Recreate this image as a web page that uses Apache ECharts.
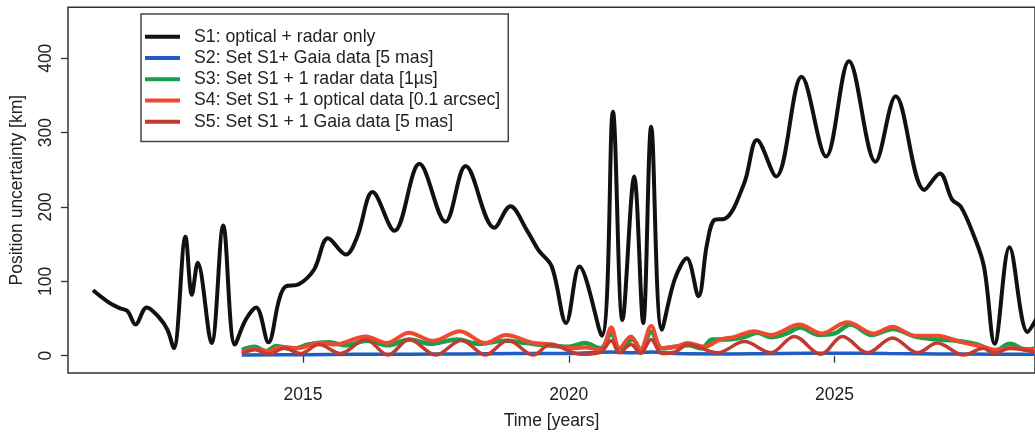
<!DOCTYPE html>
<html>
<head>
<meta charset="utf-8">
<script src="https://cdn.jsdelivr.net/npm/echarts@6/dist/echarts.min.js"></script>
<style>html,body{margin:0;padding:0;background:#fff;}#c{width:1035px;height:435px;}</style>
</head>
<body>
<div id="c"></div>
<script>
// ---- data ----
const seriesNames = [
  'S1: optical + radar only',
  'S2: Set S1+ Gaia data [5 mas]',
  'S3: Set S1 + 1 radar data [1µs]',
  'S4: Set S1 + 1 optical data [0.1 arcsec]',
  'S5: Set S1 + 1 Gaia data [5 mas]'
];
const xTickValues = [2015, 2020, 2025];
const yTickValues = [0, 100, 200, 300, 400];

const s1Years = [2011.05,2011.36,2011.55,2011.70,2011.85,2012.06,2012.30,2012.45,2012.57,2012.79,2012.91,2013.02,2013.28,2013.50,2013.72,2013.92,2014.12,2014.35,2014.55,2014.67,2014.92,2015.21,2015.47,2015.81,2016.02,2016.31,2016.72,2017.19,2017.68,2018.06,2018.60,2018.90,2019.21,2019.43,2019.68,2019.95,2020.20,2020.62,2020.83,2021.01,2021.23,2021.40,2021.55,2021.75,2021.99,2022.22,2022.44,2022.60,2022.75,2022.93,2023.30,2023.54,2023.90,2024.38,2024.84,2025.27,2025.77,2026.15,2026.69,2026.98,2027.21,2027.37,2027.60,2027.81,2028.01,2028.29,2028.63,2028.80];
const s1Values = [88,71,64,60,42,65,51,35,10,160,82,125,17,175,15,48,65,18,75,93,96,116,158,136,160,220,168,258,180,255,172,201,169,142,120,44,120,27,328,48,241,44,308,35,102,131,80,150,183,184,232,290,241,375,268,396,261,349,223,245,210,201,165,120,16,146,32,50];

const s2Years = [2013.85,2015.0,2016.0,2017.0,2018.0,2019.0,2020.0,2020.8,2021.2,2021.55,2022.0,2023.0,2024.0,2025.0,2026.0,2027.0,2028.0,2028.8];
const s2Values = [1,1.5,2,2,2.5,3,3,5,4,5,3,2.5,3,3.5,3,2.5,2,2];

const s3Years = [2013.85,2014.1,2014.3,2014.5,2014.8,2015.1,2015.5,2015.8,2016.2,2016.6,2017.0,2017.4,2017.9,2018.3,2018.8,2019.2,2019.6,2020.0,2020.3,2020.6,2020.8,2020.95,2021.2,2021.35,2021.55,2021.75,2022.0,2022.25,2022.5,2022.7,2023.0,2023.3,2023.55,2023.8,2024.1,2024.35,2024.7,2025.0,2025.3,2025.7,2026.1,2026.5,2026.9,2027.3,2027.7,2028.0,2028.3,2028.6,2028.8];
const s3Values = [8,12,6,13,9,15,18,14,20,14,22,16,22,16,20,17,14,12,17,10,30,10,22,8,32,10,12,14,10,22,22,25,31,25,30,38,28,30,42,28,36,26,22,20,15,6,16,8,10];

const s4Years = [2013.85,2014.1,2014.35,2014.6,2014.9,2015.3,2015.6,2016.18,2016.58,2016.99,2017.45,2017.95,2018.43,2018.82,2019.3,2019.7,2020.0,2020.3,2020.6,2020.8,2020.95,2021.17,2021.35,2021.55,2021.75,2022.0,2022.24,2022.55,2022.85,2023.1,2023.49,2023.8,2024.34,2024.75,2025.24,2025.74,2026.09,2026.5,2026.93,2027.4,2027.8,2028.0,2028.3,2028.8];
const s4Values = [5,9,6,12,10,17,15,26,17,31,20,33,17,28,18,15,10,11,8,38,10,26,8,40,10,12,17,12,22,25,33,28,42,30,45,30,39,27,27,18,12,8,10,8];

const s5Years = [2013.85,2014.1,2014.35,2014.65,2014.95,2015.3,2015.7,2016.18,2016.6,2017.0,2017.5,2017.98,2018.43,2018.86,2019.33,2019.65,2020.24,2020.6,2020.8,2020.95,2021.17,2021.35,2021.55,2021.75,2022.0,2022.24,2022.8,2023.3,2023.8,2024.24,2024.74,2025.15,2025.62,2026.09,2026.56,2026.93,2027.43,2027.8,2028.0,2028.3,2028.8];
const s5Values = [3,8,2,10,3,15,3,22,1,22,1,21,1,21,1,15,2,5,20,4,15,3,22,3,5,15,4,19,4,26,2,26,4,24,4,17,1,10,3,10,4];

const seriesColors = ['#111111', '#1f5fbf', '#15a04a', '#f0492f', '#c23b30'];
const seriesWidths = [4, 3.5, 4.5, 4, 3.5];

// ---- chart ----
function pairs(xs, ys) { return xs.map((x, i) => [x, ys[i]]); }
const allData = [
  pairs(s1Years, s1Values),
  pairs(s2Years, s2Values),
  pairs(s3Years, s3Values),
  pairs(s4Years, s4Values),
  pairs(s5Years, s5Values)
];
const FONT = "'Liberation Sans', Arial, sans-serif";
const chart = echarts.init(document.getElementById('c'), null, {renderer: 'canvas'});
chart.setOption({
  animation: false,
  backgroundColor: '#ffffff',
  textStyle: {fontFamily: FONT},
  grid: {
    left: 68, top: 7.3, right: -3, bottom: 61.7,
    show: true, borderColor: '#333', borderWidth: 1.5, backgroundColor: 'transparent'
  },
  legend: {
    orient: 'vertical',
    left: 141, top: 14,
    padding: [12, 8, 9, 4],
    itemGap: 0,
    itemWidth: 35, itemHeight: 4,
    icon: 'rect',
    borderColor: '#444', borderWidth: 1.5,
    backgroundColor: '#fff',
    textStyle: {fontFamily: FONT, fontSize: 17.7, color: '#222', lineHeight: 21.3, padding: [0, 0, 0, 9]},
    data: seriesNames
  },
  xAxis: {
    type: 'value',
    min: 2010.58, max: 2028.77,
    name: 'Time [years]',
    nameLocation: 'middle', nameGap: 39,
    nameTextStyle: {fontFamily: FONT, fontSize: 17.5, color: '#222'},
    axisLine: {show: false},
    splitLine: {show: false},
    axisTick: {show: true, customValues: xTickValues, length: 7, lineStyle: {color: '#333', width: 1.3}},
    axisLabel: {customValues: xTickValues, fontSize: 17.5, color: '#222', margin: 13, fontFamily: FONT,
      formatter: v => String(Math.round(v))}
  },
  yAxis: {
    type: 'value',
    min: -23.2, max: 468.5,
    name: 'Position uncertainty [km]',
    nameLocation: 'middle', nameGap: 42,
    nameTextStyle: {fontFamily: FONT, fontSize: 17.5, color: '#222'},
    axisLine: {show: false},
    splitLine: {show: false},
    axisTick: {show: true, customValues: yTickValues, length: 7, lineStyle: {color: '#333', width: 1.3}},
    axisLabel: {customValues: yTickValues, fontSize: 17.5, color: '#222', margin: 13, rotate: 90, fontFamily: FONT,
      formatter: v => String(Math.round(v))}
  },
  series: allData.map((d, i) => ({
    name: seriesNames[i],
    type: 'line',
    data: d,
    smooth: 0.35,
    showSymbol: false,
    symbol: 'none',
    clip: true,
    itemStyle: {color: seriesColors[i]},
    lineStyle: {color: seriesColors[i], width: seriesWidths[i]}
  }))
});
</script>
</body>
</html>
